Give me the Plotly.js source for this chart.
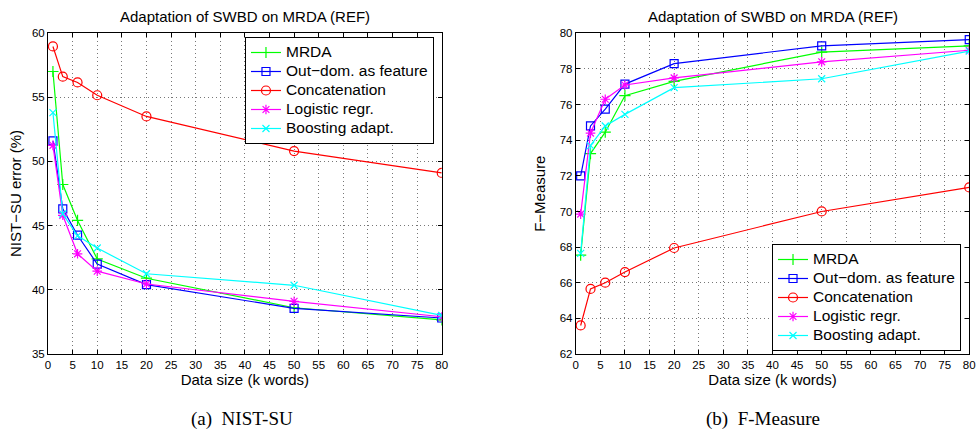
<!DOCTYPE html>
<html>
<head>
<meta charset="utf-8">
<script src="https://cdn.plot.ly/plotly-3.0.1.min.js"></script>
<style>
html,body{margin:0;padding:0;background:#fff;}
#chart{width:976px;height:437px;}
</style>
</head>
<body>
<div id="chart"></div>
<script>
// Shared x values (k words)
const dataSize = [1, 3, 6, 10, 20, 50, 80];
const seriesNames = ["MRDA", "Out\u2212dom. as feature", "Concatenation", "Logistic regr.", "Boosting adapt."];

// (a) NIST-SU error (%)
const nistMRDA   = [57.0, 48.2, 45.4, 42.4, 40.9, 38.6, 37.65];
const nistOutDom = [51.6, 46.3, 44.25, 42.0, 40.4, 38.55, 37.8];
const nistConcat = [58.95, 56.6, 56.15, 55.15, 53.5, 50.8, 49.1];
const nistLogReg = [51.25, 45.8, 42.8, 41.45, 40.45, 39.1, 37.9];
const nistBoost  = [53.8, 45.9, 44.2, 43.25, 41.25, 40.35, 38.0];

// (b) F-Measure
const fmMRDA   = [67.55, 73.25, 74.45, 76.5, 77.3, 78.95, 79.3];
const fmOutDom = [72.0, 74.8, 75.75, 77.15, 78.3, 79.3, 79.65];
const fmConcat = [63.6, 65.65, 66.0, 66.6, 67.95, 70.0, 71.35];
const fmLogReg = [69.85, 74.4, 76.3, 77.1, 77.5, 78.4, 79.05];
const fmBoost  = [67.65, 73.7, 74.8, 75.45, 76.95, 77.45, 79.0];

const xTicks = [0,5,10,15,20,25,30,35,40,45,50,55,60,65,70,75,80];
const nistTicks = [35,40,45,50,55,60];
const fmTicks = [62,64,66,68,70,72,74,76,78,80];

const colors = ["#00ff00", "#0000ff", "#ff0000", "#ff00ff", "#00ffff"];
const symbols = ["cross-thin-open", "square-open", "circle-open", "asterisk-open", "x-thin-open"];
const msizes = [8, 8, 9, 8, 7];

function mk(y, i, xa, ya, leg) {
  return {
    x: dataSize, y: y, type: "scatter", mode: "lines+markers",
    name: '<span style="font-size:15.5px">' + seriesNames[i] + '</span>',
    xaxis: xa, yaxis: ya, legend: leg,
    line: {color: colors[i], width: 1.2},
    marker: {symbol: symbols[i], size: msizes[i], color: colors[i], line: {color: colors[i], width: 1.2}}
  };
}

const traces = [
  mk(nistMRDA, 0, "x", "y", "legend"),
  mk(nistOutDom, 1, "x", "y", "legend"),
  mk(nistConcat, 2, "x", "y", "legend"),
  mk(nistLogReg, 3, "x", "y", "legend"),
  mk(nistBoost, 4, "x", "y", "legend"),
  mk(fmMRDA, 0, "x2", "y2", "legend2"),
  mk(fmOutDom, 1, "x2", "y2", "legend2"),
  mk(fmConcat, 2, "x2", "y2", "legend2"),
  mk(fmLogReg, 3, "x2", "y2", "legend2"),
  mk(fmBoost, 4, "x2", "y2", "legend2")
];

const fam = "Liberation Sans, Arial, Helvetica, sans-serif";
const tickFont = {family: fam, size: 11.5, color: "#000"};
const labFont = {family: fam, size: 15, color: "#000"};
const gridStyle = {showgrid: true, gridcolor: "#777", griddash: "1px,3px", gridwidth: 1, zeroline: false};
function xax(domain, anchor) {
  return Object.assign({
    domain: domain, anchor: anchor, range: [0, 80], tickvals: xTicks, ticktext: xTicks.map(String),
    ticks: "inside", ticklen: 4, tickcolor: "#000", showline: true, linecolor: "#000", linewidth: 1, mirror: "ticks",
    tickfont: tickFont,
    title: {text: "Data size (k words)", font: labFont, standoff: 1}
  }, gridStyle);
}
function yax(domain, anchor, range, ticks, title, standoff) {
  return Object.assign({
    domain: domain, anchor: anchor, range: range, tickvals: ticks, ticktext: ticks.map(String),
    ticks: "inside", ticklen: 4, tickcolor: "#000", showline: true, linecolor: "#000", linewidth: 1, mirror: "ticks",
    tickfont: tickFont,
    title: {text: title, font: labFont, standoff: standoff}
  }, gridStyle);
}
const legFont = {family: fam, size: 12, color: "#000"};

const layout = {
  width: 976, height: 437,
  margin: {l: 0, r: 0, t: 0, b: 0},
  paper_bgcolor: "#fff", plot_bgcolor: "#fff",
  showlegend: true,
  xaxis: xax([0.0492, 0.4526], "y"),
  yaxis: yax([0.19, 0.9245], "x", [35, 60], nistTicks, "NIST\u2212SU error (%)", 6),
  xaxis2: xax([0.5899, 0.9931], "y2"),
  yaxis2: yax([0.19, 0.9237], "x2", [62, 80], fmTicks, "F\u2212Measure", 10),
  legend: {x: 0.251, y: 1 - 37/437, xanchor: "left", yanchor: "top", bgcolor: "#fff", bordercolor: "#000", borderwidth: 1,
           font: legFont, tracegroupgap: 0, itemwidth: 30},
  legend2: {x: 0.791, y: 1 - 244/437, xanchor: "left", yanchor: "top", bgcolor: "#fff", bordercolor: "#000", borderwidth: 1,
            font: legFont, tracegroupgap: 0, itemwidth: 30},
  annotations: [
    {text: "Adaptation of SWBD on MRDA (REF)", x: 245/976, y: 1 - 17/437, xref: "paper", yref: "paper",
     xanchor: "center", yanchor: "middle", showarrow: false, font: labFont},
    {text: "Adaptation of SWBD on MRDA (REF)", x: 772.5/976, y: 1 - 17/437, xref: "paper", yref: "paper",
     xanchor: "center", yanchor: "middle", showarrow: false, font: labFont},
    {text: "(a)  NIST-SU", x: 242/976, y: 1 - 419/437, xref: "paper", yref: "paper",
     xanchor: "center", yanchor: "middle", showarrow: false, font: {family: "Liberation Serif, serif", size: 19, color: "#000"}},
    {text: "(b)  F-Measure", x: 763/976, y: 1 - 419/437, xref: "paper", yref: "paper",
     xanchor: "center", yanchor: "middle", showarrow: false, font: {family: "Liberation Serif, serif", size: 19, color: "#000"}}
  ]
};

Plotly.newPlot("chart", traces, layout, {displayModeBar: false, staticPlot: true});
</script>
</body>
</html>
